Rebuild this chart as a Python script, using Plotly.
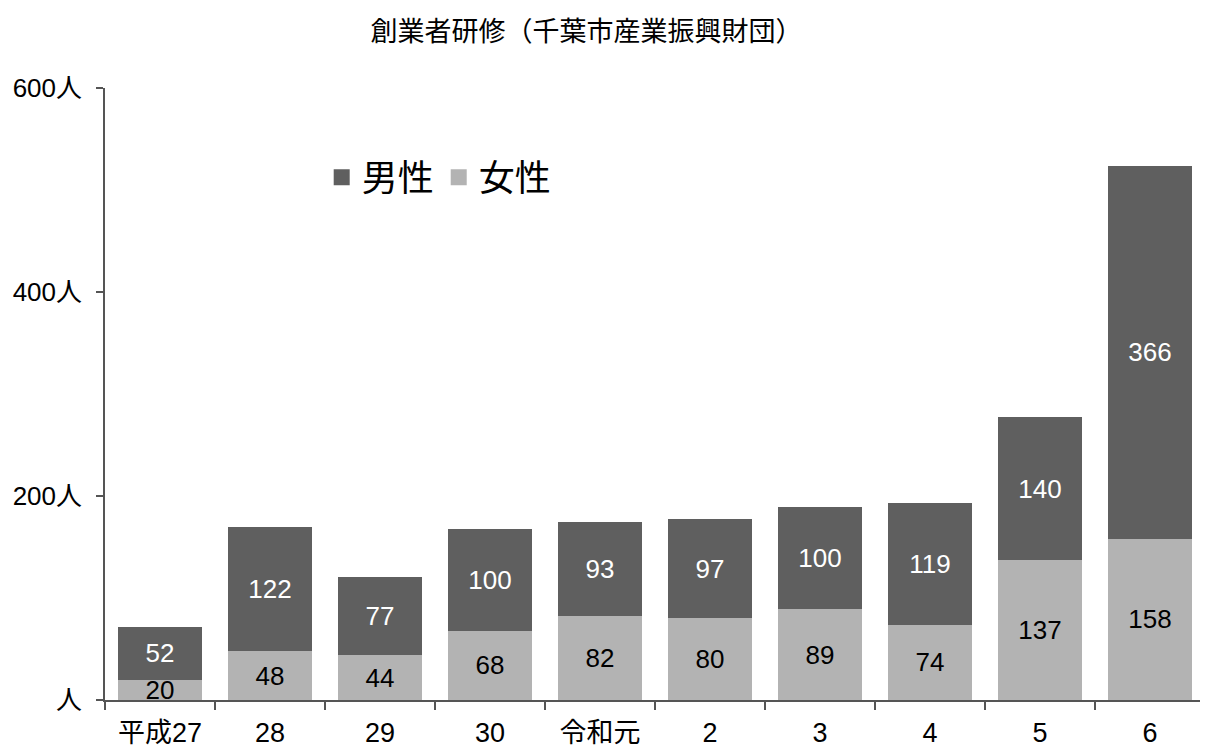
import plotly.graph_objects as go

categories = ["平成27", "28", "29", "30", "令和元", "2", "3", "4", "5", "6"]
female = [20, 48, 44, 68, 82, 80, 89, 74, 137, 158]
male = [52, 122, 77, 100, 93, 97, 100, 119, 140, 366]
y_tickvals = [0, 200, 400, 600]
y_ticktext = ["人", "200人", "400人", "600人"]
title_text = "創業者研修（千葉市産業振興財団）"

FONT = "Liberation Sans, Arial, Noto Sans CJK JP, sans-serif"
C_MALE = "#5f5f5f"
C_FEMALE = "#b3b3b3"

fig = go.Figure()
fig.add_trace(go.Bar(
    x=categories, y=female, name="女性",
    marker=dict(color=C_FEMALE, line=dict(width=0)),
    text=[str(v) for v in female], textposition="inside",
    insidetextanchor="middle", textangle=0,
    textfont=dict(color="#000000", size=26, family=FONT),
    showlegend=False,
))
fig.add_trace(go.Bar(
    x=categories, y=male, name="男性",
    marker=dict(color=C_MALE, line=dict(width=0)),
    text=[str(v) for v in male], textposition="inside",
    insidetextanchor="middle", textangle=0,
    textfont=dict(color="#ffffff", size=26, family=FONT),
    showlegend=False,
))
# legend entries (larger square swatches)
for name, col, rank in [("男性", C_MALE, 1), ("女性", C_FEMALE, 2)]:
    fig.add_trace(go.Scatter(
        x=[None], y=[None], mode="markers", name=name,
        marker=dict(symbol="square", size=16, color=col),
        legendrank=rank, hoverinfo="skip",
    ))

fig.update_layout(
    width=1200, height=743,
    barmode="stack", bargap=0.236,
    paper_bgcolor="white", plot_bgcolor="white",
    margin=dict(l=97, r=3, t=80, b=51, autoexpand=False),
    font=dict(family=FONT, color="#000000", size=23),
    uniformtext=dict(mode="show", minsize=26),
    title=dict(text=title_text, x=0.482, xanchor="center", y=0.968, yanchor="middle",
               font=dict(size=27, family=FONT, color="#000000")),
    showlegend=True,
    legend=dict(orientation="h", x=0.197, xanchor="left", y=0.854, yanchor="middle",
                font=dict(size=36, family=FONT), bgcolor="rgba(0,0,0,0)",
                itemwidth=30, traceorder="normal"),
    xaxis=dict(
        showline=True, linecolor="#555555", linewidth=1.5, automargin=False,
        ticks="outside", tickson="boundaries", ticklen=8, tickcolor="#555555", tickwidth=1.5,
        tickfont=dict(size=27, family=FONT), showgrid=False, ticklabelstandoff=8,
    ),
    yaxis=dict(
        range=[0, 600], tickvals=y_tickvals, ticktext=y_ticktext, automargin=False,
        showline=True, linecolor="#555555", linewidth=1.5,
        ticks="outside", ticklen=7, tickcolor="#555555", tickwidth=1.5,
        tickfont=dict(size=26, family=FONT), showgrid=False, zeroline=False,
        ticklabelstandoff=9,
    ),
)

fig.write_html("out.html")
